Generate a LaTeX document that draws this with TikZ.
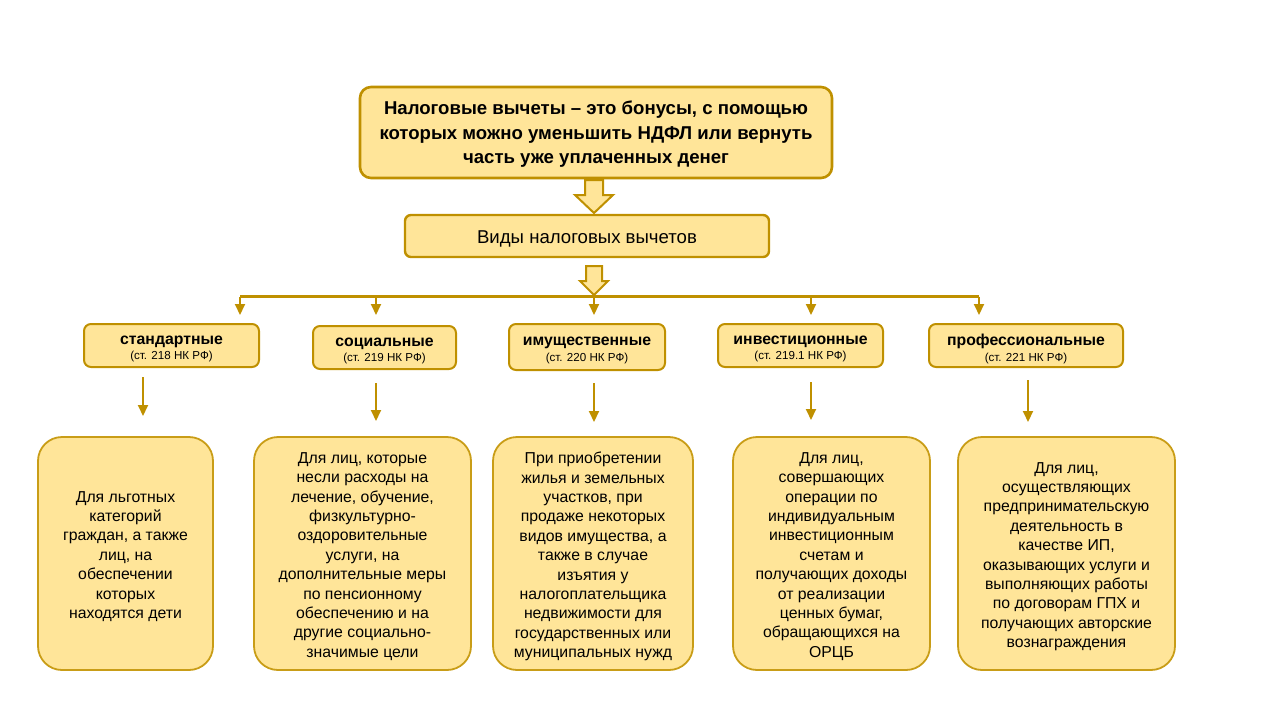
\documentclass[tikz,border=0pt]{standalone}
\usepackage{fontspec}
\setmainfont{Liberation Sans}
\usetikzlibrary{arrows.meta}
\definecolor{gold}{HTML}{BF9000}
\definecolor{pale}{HTML}{FFE599}
\newcommand{\cattitle}[2]{{\fontsize{15.8}{17}\selectfont\bfseries #1}\\[3.5pt]{\fontsize{11.6}{13}\selectfont #2}}
\begin{document}
\begin{tikzpicture}[x=1pt,y=-1pt,
  topbox/.style={draw=gold, fill=pale, rounded corners=11pt, line width=2.6pt, inner sep=0pt},
  catbox/.style={draw=gold, fill=pale, rounded corners=7pt, line width=2pt, inner sep=0pt, minimum height=43pt},
  descbox/.style={draw=gold!85!pale, fill=pale, rounded corners=24pt, line width=1.8pt, inner sep=0pt, minimum height=233pt},
  txt/.style={inner sep=0pt, align=center},
  desc/.style={txt, font=\fontsize{15.8}{19.4}\selectfont},
  conn/.style={draw=gold, line width=2pt, -{Triangle[width=10pt,length=11pt]}},
  blockarrow/.style={draw=gold, fill=pale, line width=2pt, line join=miter}
]
\useasboundingbox (0,0) rectangle (1280,720);

% top box
\node[topbox, minimum width=472pt, minimum height=91pt] (top) at (596,132.5) {};
\node[txt, font=\fontsize{18.6}{24.5}\selectfont\bfseries] (topt) at ([yshift=-2pt]top.center)
  {Налоговые вычеты – это бонусы, с помощью\\которых можно уменьшить НДФЛ или вернуть\\часть уже уплаченных денег};

% kinds box
\node[topbox, rounded corners=6pt, line width=2.4pt, minimum width=364pt, minimum height=42pt] (kinds) at (587,236) {};
\node[txt, font=\fontsize{18.6}{20}\selectfont] (kindst) at ([yshift=-2.5pt]kinds.center) {Виды налоговых вычетов};

% block arrow 1
\draw[blockarrow] (585,180) -- (603,180) -- (603,195) -- (613,195) -- (594,213)
  -- (575,195) -- (585,195) -- cycle;
% block arrow 2
\draw[blockarrow] (586,266) -- (602,266) -- (602,281) -- (608,281) -- (594,295)
  -- (580,281) -- (586,281) -- cycle;

% category boxes
\node[catbox, minimum width=175pt] (st) at (171.5,345.5) {};
\node[catbox, minimum width=143pt] (soc) at (384.5,347.5) {};
\node[catbox, minimum width=156pt, minimum height=46pt] (im) at (587,347) {};
\node[catbox, minimum width=165pt] (inv) at (800.5,345.5) {};
\node[catbox, minimum width=194pt] (prof) at (1026,345.5) {};
\node[txt] (stt) at ([yshift=-3.5pt]st.center) {\cattitle{стандартные}{(ст. 218 НК РФ)}};
\node[txt] (soct) at ([yshift=-3.5pt]soc.center) {\cattitle{социальные}{(ст. 219 НК РФ)}};
\node[txt] (imt) at ([yshift=-3.5pt]im.center) {\cattitle{имущественные}{(ст. 220 НК РФ)}};
\node[txt] (invt) at ([yshift=-3.5pt]inv.center) {\cattitle{инвестиционные}{(ст. 219.1 НК РФ)}};
\node[txt] (proft) at ([yshift=-3.5pt]prof.center) {\cattitle{профессиональные}{(ст. 221 НК РФ)}};

% distribution line
\coordinate (hl) at (240,296.5);
\coordinate (hr) at (979,296.5);
\coordinate (h2) at (376,296.5);
\coordinate (h3) at (594,296.5);
\coordinate (h4) at (811,296.5);
\draw[draw=gold, line width=2.4pt] (hl) -- (hr);
\coordinate (a1) at (240,315);
\coordinate (a2) at (376,315);
\coordinate (a3) at (594,315);
\coordinate (a4) at (811,315);
\coordinate (a5) at (979,315);
\draw[conn] (hl) -- (a1);
\draw[conn] (h2) -- (a2);
\draw[conn] (h3) -- (a3);
\draw[conn] (h4) -- (a4);
\draw[conn] (hr) -- (a5);

% description boxes
\node[descbox, minimum width=175pt] (b1) at (125.5,553.5) {};
\node[descbox, minimum width=217pt] (b2) at (362.5,553.5) {};
\node[descbox, minimum width=200pt] (b3) at (593,553.5) {};
\node[descbox, minimum width=197pt] (b4) at (831.5,553.5) {};
\node[descbox, minimum width=217pt] (b5) at (1066.5,553.5) {};
\node[desc] (b1t) at ([yshift=-3pt]b1.center)
  {Для льготных\\категорий\\граждан, а также\\лиц, на\\обеспечении\\которых\\находятся дети};
\node[desc] (b2t) at ([yshift=-3pt]b2.center)
  {Для лиц, которые\\несли расходы на\\лечение, обучение,\\физкультурно-\\оздоровительные\\услуги, на\\дополнительные меры\\по пенсионному\\обеспечению и на\\другие социально-\\значимые цели};
\node[desc] (b3t) at ([yshift=-3pt]b3.center)
  {При приобретении\\жилья и земельных\\участков, при\\продаже некоторых\\видов имущества, а\\также в случае\\изъятия у\\налогоплательщика\\недвижимости для\\государственных или\\муниципальных нужд};
\node[desc] (b4t) at ([yshift=-3pt]b4.center)
  {Для лиц,\\совершающих\\операции по\\индивидуальным\\инвестиционным\\счетам и\\получающих доходы\\от реализации\\ценных бумаг,\\обращающихся на\\ОРЦБ};
\node[desc] (b5t) at ([yshift=-3pt]b5.center)
  {Для лиц,\\осуществляющих\\предпринимательскую\\деятельность в\\качестве ИП,\\оказывающих услуги и\\выполняющих работы\\по договорам ГПХ и\\получающих авторские\\вознаграждения};

% arrows between category and description boxes
\coordinate (s1) at (143,377);  \coordinate (e1) at (143,416);
\coordinate (s2) at (376,383);  \coordinate (e2) at (376,421);
\coordinate (s3) at (594,383);  \coordinate (e3) at (594,422);
\coordinate (s4) at (811,382);  \coordinate (e4) at (811,420);
\coordinate (s5) at (1028,380); \coordinate (e5) at (1028,422);
\draw[conn] (s1) -- (e1);
\draw[conn] (s2) -- (e2);
\draw[conn] (s3) -- (e3);
\draw[conn] (s4) -- (e4);
\draw[conn] (s5) -- (e5);
\end{tikzpicture}
\end{document}
